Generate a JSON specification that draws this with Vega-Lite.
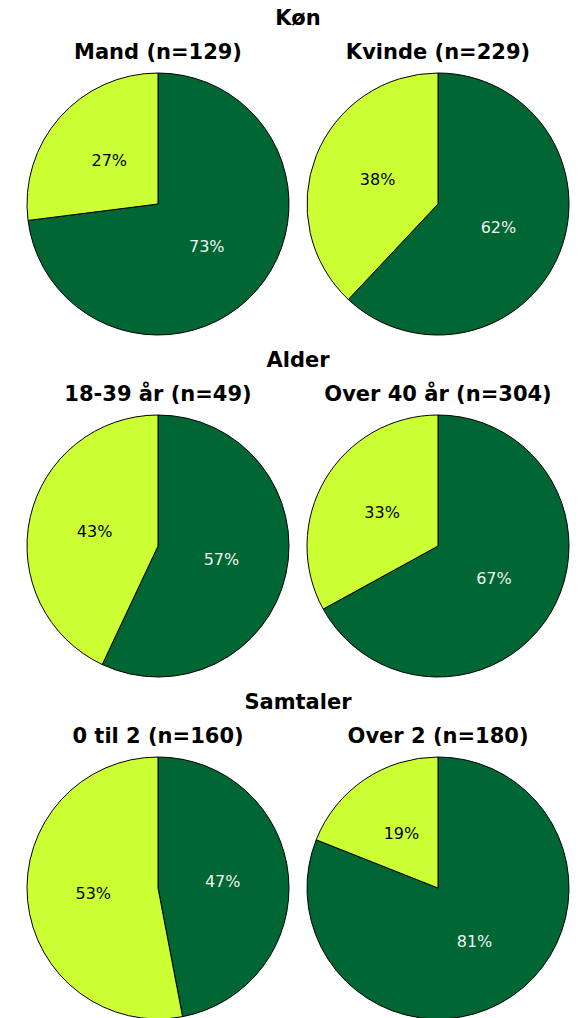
{
  "$schema": "https://vega.github.io/schema/vega-lite/v6.json",
  "background": "white",
  "padding": {"left": 25, "top": 8, "right": 5, "bottom": 0},
  "data": {"values": [
    {"panel": "Mand", "seg": 1, "value": 73, "label": "73%"},
    {"panel": "Mand", "seg": 2, "value": 27, "label": "27%"},
    {"panel": "Kvinde", "seg": 1, "value": 62, "label": "62%"},
    {"panel": "Kvinde", "seg": 2, "value": 38, "label": "38%"},
    {"panel": "18-39", "seg": 1, "value": 57, "label": "57%"},
    {"panel": "18-39", "seg": 2, "value": 43, "label": "43%"},
    {"panel": "Over40", "seg": 1, "value": 67, "label": "67%"},
    {"panel": "Over40", "seg": 2, "value": 33, "label": "33%"},
    {"panel": "0til2", "seg": 1, "value": 47, "label": "47%"},
    {"panel": "0til2", "seg": 2, "value": 53, "label": "53%"},
    {"panel": "Over2", "seg": 1, "value": 81, "label": "81%"},
    {"panel": "Over2", "seg": 2, "value": 19, "label": "19%"}
  ]},
  "config": {
    "view": {"stroke": null},
    "title": {"font": "DejaVu Sans", "fontSize": 21, "fontWeight": "bold", "color": "black", "anchor": "middle", "offset": 8},
    "text": {"font": "DejaVu Sans"}
  },
  "spacing": 13,
  "vconcat": [
    {
      "title": {"text": "Køn", "offset": 13},
      "spacing": 14,
      "hconcat": [
        {"title": "Mand (n=129)", "width": 262, "height": 262,
         "transform": [{"filter": "datum.panel == 'Mand'"}],
         "encoding": {"theta": {"field": "value", "type": "quantitative", "stack": true}, "order": {"field": "seg", "type": "quantitative"}},
         "layer": [
           {"mark": {"type": "arc", "stroke": "black", "strokeWidth": 1}, "encoding": {"color": {"field": "seg", "type": "nominal", "scale": {"domain": [1, 2], "range": ["#006633", "#CCFF33"]}, "legend": null}}},
           {"mark": {"type": "text", "radius": 65, "fontSize": 16}, "encoding": {"text": {"field": "label"}, "color": {"condition": {"test": "datum.seg == 1", "value": "#f2f2f2"}, "value": "black"}}}
         ]},
        {"title": "Kvinde (n=229)", "width": 262, "height": 262,
         "transform": [{"filter": "datum.panel == 'Kvinde'"}],
         "encoding": {"theta": {"field": "value", "type": "quantitative", "stack": true}, "order": {"field": "seg", "type": "quantitative"}},
         "layer": [
           {"mark": {"type": "arc", "stroke": "black", "strokeWidth": 1}, "encoding": {"color": {"field": "seg", "type": "nominal", "scale": {"domain": [1, 2], "range": ["#006633", "#CCFF33"]}, "legend": null}}},
           {"mark": {"type": "text", "radius": 65, "fontSize": 16}, "encoding": {"text": {"field": "label"}, "color": {"condition": {"test": "datum.seg == 1", "value": "#f2f2f2"}, "value": "black"}}}
         ]}
      ]
    },
    {
      "title": {"text": "Alder", "offset": 13},
      "spacing": 14,
      "hconcat": [
        {"title": "18-39 år (n=49)", "width": 262, "height": 262,
         "transform": [{"filter": "datum.panel == '18-39'"}],
         "encoding": {"theta": {"field": "value", "type": "quantitative", "stack": true}, "order": {"field": "seg", "type": "quantitative"}},
         "layer": [
           {"mark": {"type": "arc", "stroke": "black", "strokeWidth": 1}, "encoding": {"color": {"field": "seg", "type": "nominal", "scale": {"domain": [1, 2], "range": ["#006633", "#CCFF33"]}, "legend": null}}},
           {"mark": {"type": "text", "radius": 65, "fontSize": 16}, "encoding": {"text": {"field": "label"}, "color": {"condition": {"test": "datum.seg == 1", "value": "#f2f2f2"}, "value": "black"}}}
         ]},
        {"title": "Over 40 år (n=304)", "width": 262, "height": 262,
         "transform": [{"filter": "datum.panel == 'Over40'"}],
         "encoding": {"theta": {"field": "value", "type": "quantitative", "stack": true}, "order": {"field": "seg", "type": "quantitative"}},
         "layer": [
           {"mark": {"type": "arc", "stroke": "black", "strokeWidth": 1}, "encoding": {"color": {"field": "seg", "type": "nominal", "scale": {"domain": [1, 2], "range": ["#006633", "#CCFF33"]}, "legend": null}}},
           {"mark": {"type": "text", "radius": 65, "fontSize": 16}, "encoding": {"text": {"field": "label"}, "color": {"condition": {"test": "datum.seg == 1", "value": "#f2f2f2"}, "value": "black"}}}
         ]}
      ]
    },
    {
      "title": {"text": "Samtaler", "offset": 13},
      "spacing": 14,
      "hconcat": [
        {"title": "0 til 2 (n=160)", "width": 262, "height": 262,
         "transform": [{"filter": "datum.panel == '0til2'"}],
         "encoding": {"theta": {"field": "value", "type": "quantitative", "stack": true}, "order": {"field": "seg", "type": "quantitative"}},
         "layer": [
           {"mark": {"type": "arc", "stroke": "black", "strokeWidth": 1}, "encoding": {"color": {"field": "seg", "type": "nominal", "scale": {"domain": [1, 2], "range": ["#006633", "#CCFF33"]}, "legend": null}}},
           {"mark": {"type": "text", "radius": 65, "fontSize": 16}, "encoding": {"text": {"field": "label"}, "color": {"condition": {"test": "datum.seg == 1", "value": "#f2f2f2"}, "value": "black"}}}
         ]},
        {"title": "Over 2 (n=180)", "width": 262, "height": 262,
         "transform": [{"filter": "datum.panel == 'Over2'"}],
         "encoding": {"theta": {"field": "value", "type": "quantitative", "stack": true}, "order": {"field": "seg", "type": "quantitative"}},
         "layer": [
           {"mark": {"type": "arc", "stroke": "black", "strokeWidth": 1}, "encoding": {"color": {"field": "seg", "type": "nominal", "scale": {"domain": [1, 2], "range": ["#006633", "#CCFF33"]}, "legend": null}}},
           {"mark": {"type": "text", "radius": 65, "fontSize": 16}, "encoding": {"text": {"field": "label"}, "color": {"condition": {"test": "datum.seg == 1", "value": "#f2f2f2"}, "value": "black"}}}
         ]}
      ]
    }
  ]
}
